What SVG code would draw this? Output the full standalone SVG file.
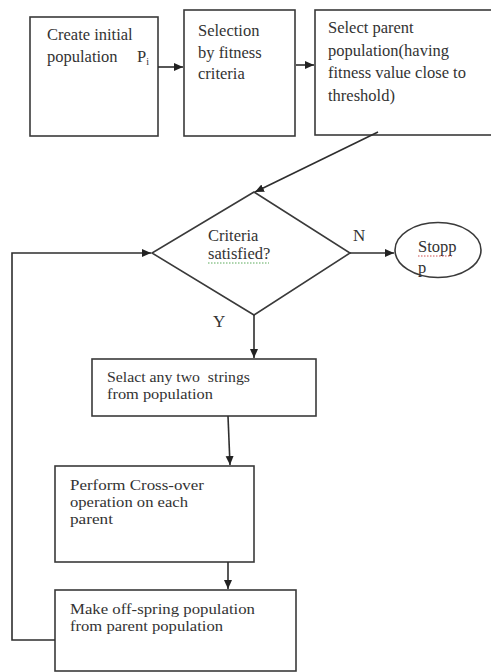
<svg xmlns="http://www.w3.org/2000/svg" width="491" height="672" viewBox="0 0 491 672">
<style>
.box{fill:#fff;stroke:#3a3a3a;stroke-width:1.6}
.ln{fill:none;stroke:#2e2e2e;stroke-width:1.6}
.t{font-family:"Liberation Serif","Times New Roman",serif;font-size:16.5px;fill:#333;white-space:pre}
.s{font-size:15px}
.lbl{font-family:"Liberation Serif","Times New Roman",serif;font-size:17px;fill:#333}
</style>
<defs>
<marker id="ah" markerUnits="userSpaceOnUse" markerWidth="10" markerHeight="9" refX="9" refY="4" orient="auto">
<path d="M0,0 L9,4 L0,8 z" fill="#222"/>
</marker>
</defs>
<rect width="491" height="672" fill="#fff"/>
<g id="node-create">
<rect class="box" x="30" y="17" width="128" height="119"/>
<text class="t" x="47" y="40">Create initial</text>
<text class="t" x="47" y="62">population<tspan x="137">P</tspan><tspan font-size="10" dy="3">i</tspan></text>
</g>
<g id="node-selection">
<rect class="box" x="184" y="10" width="111" height="126"/>
<text class="t" x="198" y="36">Selection</text>
<text class="t" x="198" y="58">by fitness</text>
<text class="t" x="198" y="79">criteria</text>
</g>
<g id="node-parent">
<rect class="box" x="315" y="10" width="190" height="125"/>
<text class="t" x="328" y="33" font-size="17">Select parent</text>
<text class="t" x="328" y="56" font-size="17">population(having</text>
<text class="t" x="328" y="78" font-size="17">fitness value close to</text>
<text class="t" x="328" y="101" font-size="17">threshold)</text>
</g>
<g id="node-decision">
<polygon class="box" points="254,192 350,253 254,315 152,253"/>
<text class="t" x="208" y="241" font-size="16">Criteria</text>
<text class="t" x="208" y="259" font-size="16">satisfied?</text>
<line x1="208" y1="263" x2="269" y2="263" stroke="#5aaa5a" stroke-width="1" stroke-dasharray="1.5,1.5"/>
</g>
<g id="node-stop">
<ellipse class="box" cx="438" cy="250" rx="43" ry="27.5"/>
<text class="t" x="418" y="252" font-size="15">Stopp</text>
<line x1="418" y1="256" x2="452" y2="256" stroke="#d05050" stroke-width="1" stroke-dasharray="1.5,1.5"/>
<text class="t" x="418" y="273" font-size="15">p</text>
</g>
<g id="node-select-two">
<rect class="box" x="92" y="359" width="224" height="57"/>
<text class="t s" x="107" y="382" textLength="143" lengthAdjust="spacingAndGlyphs">Selact any two  strings</text>
<text class="t s" x="107" y="399" textLength="106" lengthAdjust="spacingAndGlyphs">from population</text>
</g>
<g id="node-crossover">
<rect class="box" x="55" y="466" width="199" height="96"/>
<text class="t s" x="70" y="490" textLength="134" lengthAdjust="spacingAndGlyphs">Perform Cross-over</text>
<text class="t s" x="70" y="507" textLength="118" lengthAdjust="spacingAndGlyphs">operation on each</text>
<text class="t s" x="70" y="524" textLength="43" lengthAdjust="spacingAndGlyphs">parent</text>
</g>
<g id="node-offspring">
<rect class="box" x="55" y="590" width="241" height="81"/>
<text class="t s" x="70" y="614" textLength="185" lengthAdjust="spacingAndGlyphs">Make off-spring population</text>
<text class="t s" x="70" y="631" textLength="153" lengthAdjust="spacingAndGlyphs">from parent population</text>
</g>
<g id="connectors">
<line class="ln" x1="158" y1="67" x2="183" y2="67" marker-end="url(#ah)"/>
<line class="ln" x1="296" y1="65" x2="314" y2="65" marker-end="url(#ah)"/>
<line class="ln" x1="378" y1="132" x2="255" y2="192" marker-end="url(#ah)"/>
<line class="ln" x1="350" y1="253" x2="394" y2="253" marker-end="url(#ah)"/>
<line class="ln" x1="254" y1="315" x2="254" y2="358" marker-end="url(#ah)"/>
<line class="ln" x1="228" y1="416" x2="230" y2="465" marker-end="url(#ah)"/>
<line class="ln" x1="228" y1="562" x2="228" y2="589" marker-end="url(#ah)"/>
<path class="ln" d="M55,640 H12 V253 H151" marker-end="url(#ah)"/>
<text class="lbl" x="353" y="241">N</text>
<text class="lbl" x="213" y="327">Y</text>
</g>
</svg>
